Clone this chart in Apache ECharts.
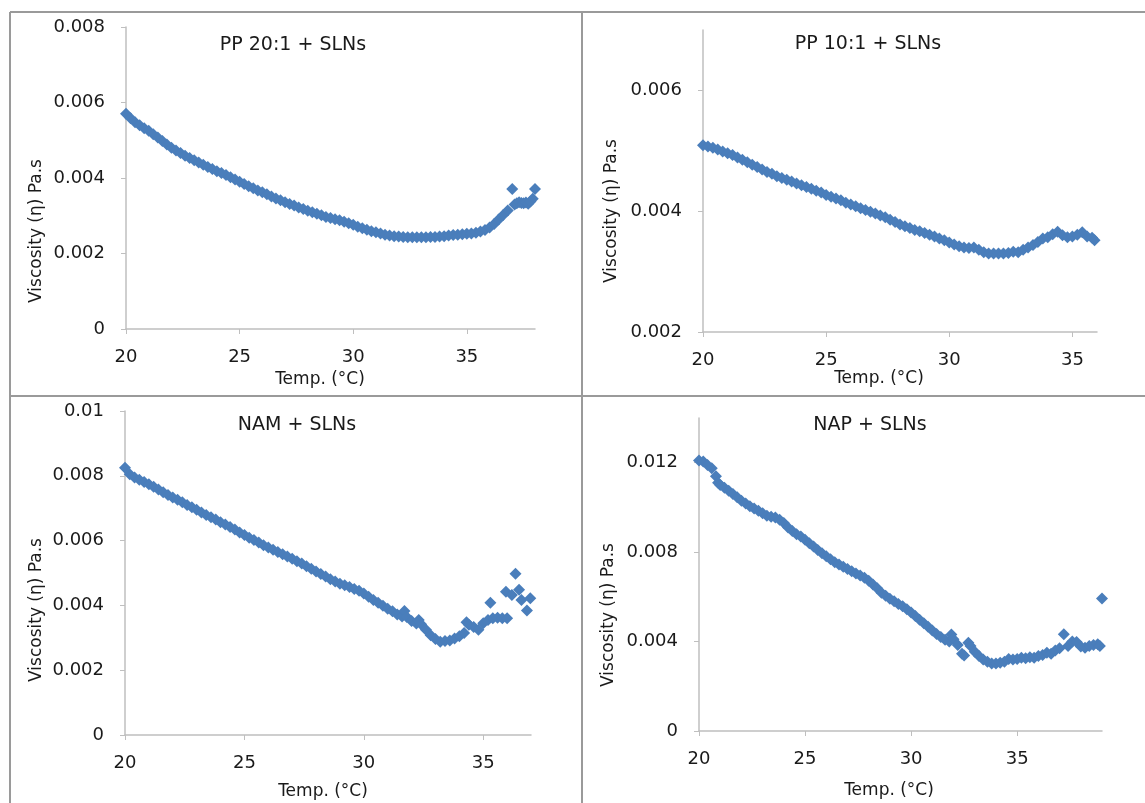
<!DOCTYPE html>
<html>
<head>
<meta charset="utf-8">
<script src="https://cdn.jsdelivr.net/npm/echarts@6/dist/echarts.min.js"></script>
<style>
  html, body { margin: 0; padding: 0; background: #fff; }
  #chart { width: 1145px; height: 803px; }
</style>
</head>
<body>
<div id="chart"></div>
<script>
// PP 20:1 + SLNs
const pp20Temp = [
  20.0, 20.2, 20.4, 20.6, 20.8, 21.0, 21.2, 21.4, 21.6, 21.8,
  22.0, 22.2, 22.4, 22.6, 22.8, 23.0, 23.2, 23.4, 23.6, 23.8,
  24.0, 24.2, 24.4, 24.6, 24.8, 25.0, 25.2, 25.4, 25.6, 25.8,
  26.0, 26.2, 26.4, 26.6, 26.8, 27.0, 27.2, 27.4, 27.6, 27.8,
  28.0, 28.2, 28.4, 28.6, 28.8, 29.0, 29.2, 29.4, 29.6, 29.8,
  30.0, 30.2, 30.4, 30.6, 30.8, 31.0, 31.2, 31.4, 31.6, 31.8,
  32.0, 32.2, 32.4, 32.6, 32.8, 33.0, 33.2, 33.4, 33.6, 33.8,
  34.0, 34.2, 34.4, 34.6, 34.8, 35.0, 35.2, 35.4, 35.6, 35.8,
  36.0, 36.2, 36.4, 36.6, 36.8, 37.0, 37.1, 37.2, 37.3, 37.4,
  37.5, 37.6, 37.7, 37.8, 37.9, 38.0
];
const pp20Visc = [
  0.00570, 0.00558, 0.00548, 0.00540, 0.00532, 0.00525, 0.00516, 0.00507, 0.00498, 0.00489,
  0.00480, 0.00473, 0.00466, 0.00459, 0.00453, 0.00447, 0.00441, 0.00435, 0.00429, 0.00424,
  0.00418, 0.00413, 0.00408, 0.00402, 0.00396, 0.00390, 0.00384, 0.00378, 0.00373, 0.00367,
  0.00362, 0.00357, 0.00351, 0.00346, 0.00341, 0.00336, 0.00331, 0.00327, 0.00322, 0.00318,
  0.00313, 0.00309, 0.00305, 0.00301, 0.00297, 0.00294, 0.00291, 0.00288, 0.00284, 0.00280,
  0.00276, 0.00271, 0.00267, 0.00263, 0.00259, 0.00256, 0.00253, 0.00250, 0.00248, 0.00246,
  0.00245, 0.00244, 0.00243, 0.00243, 0.00243, 0.00243, 0.00243, 0.00244, 0.00244, 0.00245,
  0.00246, 0.00248, 0.00249, 0.00250, 0.00251, 0.00252, 0.00253, 0.00255, 0.00258, 0.00262,
  0.00269, 0.00278, 0.00290, 0.00302, 0.00314, 0.00371, 0.00330, 0.00333, 0.00336, 0.00334,
  0.00333, 0.00335, 0.00332, 0.00338, 0.00345, 0.00371
];

// PP 10:1 + SLNs
const pp10Temp = [
  20.0, 20.2, 20.4, 20.6, 20.8, 21.0, 21.2, 21.4, 21.6, 21.8,
  22.0, 22.2, 22.4, 22.6, 22.8, 23.0, 23.2, 23.4, 23.6, 23.8,
  24.0, 24.2, 24.4, 24.6, 24.8, 25.0, 25.2, 25.4, 25.6, 25.8,
  26.0, 26.2, 26.4, 26.6, 26.8, 27.0, 27.2, 27.4, 27.6, 27.8,
  28.0, 28.2, 28.4, 28.6, 28.8, 29.0, 29.2, 29.4, 29.6, 29.8,
  30.0, 30.2, 30.4, 30.6, 30.8, 31.0, 31.2, 31.4, 31.6, 31.8,
  32.0, 32.2, 32.4, 32.6, 32.8, 33.0, 33.2, 33.4, 33.6, 33.8,
  34.0, 34.2, 34.4, 34.6, 34.8, 35.0, 35.2, 35.4, 35.6, 35.8,
  35.9
];
const pp10Visc = [
  0.00509, 0.00507, 0.00505, 0.00502, 0.00499, 0.00496, 0.00493, 0.00489, 0.00485, 0.00481,
  0.00477, 0.00473, 0.00469, 0.00465, 0.00462, 0.00458, 0.00455, 0.00452, 0.00449, 0.00446,
  0.00443, 0.00440, 0.00437, 0.00434, 0.00431, 0.00427, 0.00424, 0.00421, 0.00418, 0.00414,
  0.00411, 0.00408, 0.00405, 0.00402, 0.00399, 0.00396, 0.00393, 0.00390, 0.00386, 0.00382,
  0.00378, 0.00375, 0.00372, 0.00369, 0.00367, 0.00364, 0.00361, 0.00358, 0.00355, 0.00352,
  0.00348, 0.00345, 0.00342, 0.00340, 0.00339, 0.00340, 0.00336, 0.00332, 0.00330, 0.00330,
  0.00330, 0.00330, 0.00331, 0.00333, 0.00332, 0.00336, 0.00340, 0.00344, 0.00349, 0.00355,
  0.00357, 0.00362, 0.00366, 0.00360, 0.00357, 0.00358, 0.00361, 0.00365, 0.00358, 0.00356,
  0.00352
];

// NAM + SLNs
const namTemp = [
  20.0, 20.2, 20.4, 20.6, 20.8, 21.0, 21.2, 21.4, 21.6, 21.8,
  22.0, 22.2, 22.4, 22.6, 22.8, 23.0, 23.2, 23.4, 23.6, 23.8,
  24.0, 24.2, 24.4, 24.6, 24.8, 25.0, 25.2, 25.4, 25.6, 25.8,
  26.0, 26.2, 26.4, 26.6, 26.8, 27.0, 27.2, 27.4, 27.6, 27.8,
  28.0, 28.2, 28.4, 28.6, 28.8, 29.0, 29.2, 29.4, 29.6, 29.8,
  30.0, 30.2, 30.4, 30.6, 30.8, 31.0, 31.2, 31.4, 31.6, 31.7,
  31.8, 32.0, 32.2, 32.3, 32.4, 32.6, 32.8, 33.0, 33.2, 33.4,
  33.6, 33.8, 34.0, 34.2, 34.3, 34.4, 34.6, 34.8, 35.0, 35.2,
  35.3, 35.4, 35.6, 35.8, 36.0, 35.95, 36.2, 36.35, 36.5, 36.6,
  36.83, 36.97
];
const namVisc = [
  0.00825, 0.00805, 0.00795, 0.00788, 0.00781, 0.00774, 0.00766, 0.00758, 0.00749, 0.00741,
  0.00733, 0.00726, 0.00718, 0.00710, 0.00703, 0.00695, 0.00687, 0.00679, 0.00672, 0.00665,
  0.00657, 0.00650, 0.00642, 0.00634, 0.00625, 0.00617, 0.00609, 0.00602, 0.00594, 0.00586,
  0.00579, 0.00572, 0.00565, 0.00558, 0.00551, 0.00544, 0.00536, 0.00529, 0.00521, 0.00513,
  0.00505, 0.00497, 0.00489, 0.00481, 0.00474, 0.00467, 0.00462, 0.00457, 0.00451, 0.00445,
  0.00437, 0.00427, 0.00417, 0.00408, 0.00399, 0.00390, 0.00382, 0.00372, 0.00366, 0.00383,
  0.00364, 0.00352, 0.00344, 0.00355, 0.00342, 0.00325, 0.00308, 0.00296, 0.00288, 0.00290,
  0.00292, 0.00298, 0.00305, 0.00315, 0.00348, 0.00340, 0.00333, 0.00325, 0.00345, 0.00355,
  0.00408, 0.00360, 0.00362, 0.00360, 0.00360, 0.00442, 0.00432, 0.00498, 0.00448, 0.00417,
  0.00384, 0.00422
];

// NAP + SLNs
const napTemp = [
  20.0, 20.2, 20.4, 20.6, 20.8, 20.9, 21.0, 21.2, 21.4, 21.6,
  21.8, 22.0, 22.2, 22.4, 22.6, 22.8, 23.0, 23.2, 23.4, 23.6,
  23.8, 24.0, 24.2, 24.4, 24.6, 24.8, 25.0, 25.2, 25.4, 25.6,
  25.8, 26.0, 26.2, 26.4, 26.6, 26.8, 27.0, 27.2, 27.4, 27.6,
  27.8, 28.0, 28.2, 28.4, 28.6, 28.8, 29.0, 29.2, 29.4, 29.6,
  29.8, 30.0, 30.2, 30.4, 30.6, 30.8, 31.0, 31.2, 31.4, 31.6,
  31.8, 31.9, 32.0, 32.2, 32.4, 32.5, 32.7, 32.8, 33.0, 33.2,
  33.4, 33.6, 33.8, 34.0, 34.2, 34.4, 34.6, 34.8, 35.0, 35.2,
  35.4, 35.6, 35.8, 36.0, 36.2, 36.4, 36.6, 36.8, 37.0, 37.2,
  37.4, 37.6, 37.8, 38.0, 38.2, 38.4, 38.6, 38.8, 38.9, 39.0
];
const napVisc = [
  0.01210, 0.01205, 0.01190, 0.01175, 0.01140, 0.01110, 0.01100, 0.01088, 0.01075, 0.01060,
  0.01045, 0.01030, 0.01018, 0.01005, 0.00995, 0.00985, 0.00974, 0.00963, 0.00958, 0.00955,
  0.00945, 0.00930, 0.00910, 0.00895, 0.00880, 0.00870, 0.00855, 0.00840, 0.00825, 0.00810,
  0.00795, 0.00782, 0.00768, 0.00755, 0.00745, 0.00735, 0.00725, 0.00715, 0.00705, 0.00695,
  0.00685, 0.00672, 0.00655, 0.00638, 0.00618, 0.00605, 0.00592, 0.00580, 0.00568, 0.00558,
  0.00545, 0.00530, 0.00514, 0.00498, 0.00482, 0.00466, 0.00450, 0.00434, 0.00420, 0.00408,
  0.00400, 0.00432, 0.00410, 0.00385, 0.00345, 0.00338, 0.00395, 0.00380, 0.00355, 0.00335,
  0.00320, 0.00310, 0.00302, 0.00302, 0.00305, 0.00310, 0.00322, 0.00320, 0.00322, 0.00328,
  0.00325, 0.00330, 0.00328, 0.00335, 0.00340, 0.00350, 0.00345, 0.00360, 0.00370, 0.00433,
  0.00380, 0.00400, 0.00398, 0.00378, 0.00372, 0.00380, 0.00385, 0.00388, 0.00380, 0.00593
];

const titles = ["PP 20:1 + SLNs", "PP 10:1 + SLNs", "NAM + SLNs", "NAP + SLNs"];
const xTicks = [20, 25, 30, 35];
const yTicks = [
  [0, 0.002, 0.004, 0.006, 0.008],
  [0.002, 0.004, 0.006],
  [0, 0.002, 0.004, 0.006, 0.008, 0.01],
  [0, 0.004, 0.008, 0.012]
];
const xRanges = [[20, 38], [20, 36], [20, 37], [20, 39]];
const yRanges = [[0, 0.008], [0.002, 0.007], [0, 0.01], [0, 0.014]];
const yName = "Viscosity (\u03b7) Pa.s";
const xName = "Temp. (\u00b0C)";

const FONT = '"DejaVu Sans", sans-serif';
const AXIS_COLOR = "#bfbfbf";
const DOT = "#4a7ebb";

const grids = [
  { left: 126, top: 27, width: 409, height: 302 },
  { left: 703, top: 30, width: 394, height: 302 },
  { left: 125, top: 411, width: 406, height: 324 },
  { left: 699, top: 418, width: 403, height: 313 }
];

const seriesData = [
  pp20Temp.map((t, i) => [t, pp20Visc[i]]),
  pp10Temp.map((t, i) => [t, pp10Visc[i]]),
  namTemp.map((t, i) => [t, namVisc[i]]),
  napTemp.map((t, i) => [t, napVisc[i]])
];

// label / name placement for each panel
const titlePos = [[293, 45], [868, 44], [297, 425], [870, 425]];
const yNamePos = [[37, 231], [612, 211], [37, 610], [609, 615]];
const xNamePos = [[320, 380], [879, 379], [323, 792], [889, 791]];

const chart = echarts.init(document.getElementById("chart"), null, { renderer: "canvas" });

const textEl = (x, y, text, size, rot) => ({
  type: "text",
  x: x,
  y: y,
  rotation: rot || 0,
  silent: true,
  style: {
    text: text,
    font: size + "px " + FONT,
    fill: "#1a1a1a",
    align: "center",
    verticalAlign: "middle"
  }
});

const lineEl = (x1, y1, x2, y2) => ({
  type: "line",
  silent: true,
  shape: { x1, y1, x2, y2 },
  style: { stroke: "#9a9a9a", lineWidth: 2 }
});

const graphic = [
  lineEl(10, 12, 1145, 12),
  lineEl(10, 12, 10, 803),
  lineEl(10, 396, 1145, 396),
  lineEl(582, 12, 582, 803)
];
titles.forEach((t, i) => {
  graphic.push(textEl(titlePos[i][0], titlePos[i][1], t, 19));
  graphic.push(textEl(yNamePos[i][0], yNamePos[i][1], yName, 17, Math.PI / 2));
  graphic.push(textEl(xNamePos[i][0], xNamePos[i][1], xName, 17));
});

chart.setOption({
  backgroundColor: "#ffffff",
  animation: false,
  grid: grids,
  xAxis: grids.map((g, i) => ({
    type: "value",
    gridIndex: i,
    min: xRanges[i][0],
    max: xRanges[i][1],
    splitLine: { show: false },
    axisLine: { show: true, onZero: false, lineStyle: { color: AXIS_COLOR, width: 1.5 } },
    axisTick: { show: true, length: 5, customValues: xTicks, lineStyle: { color: AXIS_COLOR } },
    axisLabel: {
      customValues: xTicks,
      margin: 19,
      fontFamily: FONT,
      fontSize: 18,
      color: "#1a1a1a"
    }
  })),
  yAxis: grids.map((g, i) => ({
    type: "value",
    gridIndex: i,
    min: yRanges[i][0],
    max: yRanges[i][1],
    splitLine: { show: false },
    axisLine: { show: true, onZero: false, lineStyle: { color: AXIS_COLOR, width: 1.5 } },
    axisTick: { show: true, length: 5, customValues: yTicks[i], lineStyle: { color: AXIS_COLOR } },
    axisLabel: {
      customValues: yTicks[i],
      margin: 21,
      fontFamily: FONT,
      fontSize: 18,
      color: "#1a1a1a"
    }
  })),
  series: seriesData.map((d, i) => ({
    type: "scatter",
    xAxisIndex: i,
    yAxisIndex: i,
    symbol: "diamond",
    symbolSize: 12,
    itemStyle: { color: DOT, opacity: 1 },
    data: d
  })),
  graphic: graphic
});
</script>
</body>
</html>
